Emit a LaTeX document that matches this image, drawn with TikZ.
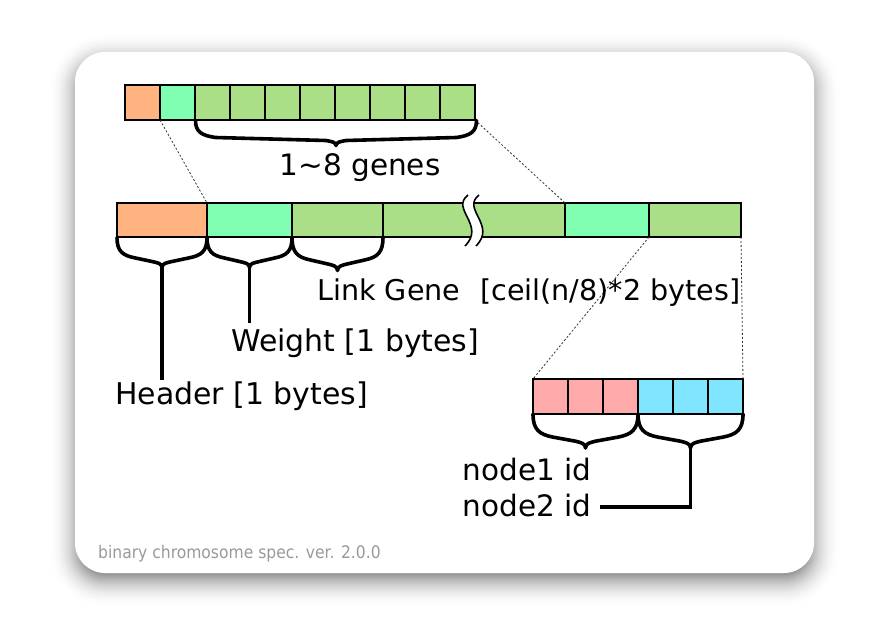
\documentclass[tikz,border=0pt]{standalone}
\usepackage{fontspec}
\setmainfont{DejaVu Sans}
\newfontfamily\footfont{DejaVu Sans Condensed}
\definecolor{corange}{HTML}{FFB380}
\definecolor{cteal}{HTML}{80FFB3}
\definecolor{cgreen}{HTML}{AADE87}
\definecolor{cpink}{HTML}{FFAAAA}
\definecolor{ccyan}{HTML}{80E5FF}
\definecolor{cfoot}{HTML}{999999}
\newcommand{\gbrace}[5]{%
  \pgfmathsetmacro\gbxm{(#1+#2)/2}%
  \pgfmathsetmacro\gbc{min(20,(#2-#1)/5)}%
  \pgfmathsetmacro\gbd{10}%
  \draw[bracestyle] (#1,#3) .. controls (#1,#3+0.45*#4) and (#1+0.3*\gbc,#3+0.6*#4) .. (#1+\gbc,#3+0.68*#4)
    -- (\gbxm-\gbd,#3+0.8*#4) .. controls (\gbxm-0.5*\gbd,#3+0.84*#4) and (\gbxm,#3+0.86*#4) .. (\gbxm,#3+#4)
    .. controls (\gbxm,#3+0.86*#4) and (\gbxm+0.5*\gbd,#3+0.84*#4) .. (\gbxm+\gbd,#3+0.8*#4)
    -- (#2-\gbc,#3+0.68*#4) .. controls (#2-0.3*\gbc,#3+0.6*#4) and (#2,#3+0.45*#4) .. (#2,#3);
  \coordinate (#5) at (\gbxm,#3+#4);
}
\begin{document}
\begin{tikzpicture}[x=1pt,y=-1pt,
  cell/.style={draw=black, line width=1.4pt, inner sep=0pt, outer sep=0pt, minimum height=35pt, anchor=north west},
  midcell/.style={cell, minimum height=34pt},
  bracestyle/.style={line width=3.6pt, line cap=round, line join=round},
  stem/.style={line width=3.6pt},
  guide/.style={line width=0.8pt, dash pattern=on 2pt off 2pt, black!80},
  lbl/.style={inner sep=0pt, anchor=base west, font=\fontsize{29.5}{34}\selectfont},
  breakline/.style={line width=1.6pt}]
\useasboundingbox (0,0) rectangle (889,626);
% card shadow (opaque layers, light outside to dark inside)
\foreach \e in {27,26,...,-6}{
  \pgfmathsetmacro\rr{max(2,30+\e)}
  \pgfmathsetmacro\tt{(\e+6)/33}
  \pgfmathsetmacro\pp{40*(1-\tt)^2}
  \fill[black!\pp, rounded corners=\rr pt] (75-\e,60-\e) rectangle (814+\e,581+\e);
}
% card
\fill[white, rounded corners=30pt] (75,52) rectangle (814,573);
% top bar
\node[cell, fill=corange, minimum width=35pt] (t0) at (125,85) {};
\node[cell, fill=cteal, minimum width=35pt] (t1) at (160,85) {};
\foreach \i in {2,...,9}{
  \node[cell, fill=cgreen, minimum width=35pt] (t\i) at (125+35*\i,85) {};
}
% middle bar
\node[midcell, fill=corange, minimum width=90pt] (m0) at (117,203) {};
\node[midcell, fill=cteal, minimum width=85pt] (m1) at (207,203) {};
\node[midcell, fill=cgreen, minimum width=91pt] (m2) at (292,203) {};
\node[midcell, fill=cgreen, minimum width=182pt] (m3) at (383,203) {};
\node[midcell, fill=cteal, minimum width=84pt] (m4) at (565,203) {};
\node[midcell, fill=cgreen, minimum width=92pt] (m5) at (649,203) {};
% break mark
\fill[white] (468,195) .. controls (450,209) and (486,225) .. (465,246) -- (476,246) .. controls (497,225) and (461,209) .. (479,195) -- cycle;
\draw[breakline] (468,195) .. controls (450,209) and (486,225) .. (465,246);
\draw[breakline] (479,195) .. controls (461,209) and (497,225) .. (476,246);
% bottom bar
\foreach \i in {0,1,2}{
  \node[cell, fill=cpink, minimum width=35pt] (b\i) at (533+35*\i,379) {};
}
\foreach \i in {3,4,5}{
  \node[cell, fill=ccyan, minimum width=35pt] (b\i) at (533+35*\i,379) {};
}
% guide lines
\draw[guide] (t1.south west) -- (m1.north west);
\draw[guide] (t9.south east) -- (m4.north west);
\draw[guide] (m5.south west) -- (b0.north west);
\draw[guide] (m5.south east) -- (b5.north east);
% braces
\gbrace{195.5}{476.5}{120.5}{25}{gtip}
\gbrace{117}{207}{237.5}{30}{htip}
\gbrace{207}{292}{237.5}{30}{wtip}
\gbrace{292}{383}{237.5}{33}{ltip}
\gbrace{533}{638}{414}{34}{ptip}
\gbrace{638}{743}{414}{34}{ctip}
% labels
\node[lbl] (genes) at (279.5,175) {1\textasciitilde8 genes};
\node[lbl, font=\fontsize{28.6}{34}\selectfont] (link) at (317,300) {Link Gene\hspace{20pt}[ceil(n/8)*2 bytes]};
\node[lbl, font=\fontsize{29.9}{34}\selectfont] (weight) at (231,351.5) {Weight [1 bytes]};
\node[lbl, font=\fontsize{29.9}{34}\selectfont] (header) at (115,404) {Header [1 bytes]};
\node[lbl] (n1) at (462.5,480) {node1 id};
\node[lbl] (n2) at (462.5,516.5) {node2 id};
\node[inner sep=0pt, anchor=base west, text=cfoot, font=\footfont\fontsize{17.3}{20}\selectfont] (foot) at (98,558) {binary chromosome spec. ver. 2.0.0};
% stems
\coordinate (hend) at (163,380);
\coordinate (wend) at (249.5,323);
\coordinate (n2end) at (600,507);
\draw[stem] (htip) -- (htip |- hend);
\draw[stem] (wtip) -- (wtip |- wend);
\draw[stem] (ctip) |- (n2end);
\end{tikzpicture}
\end{document}
